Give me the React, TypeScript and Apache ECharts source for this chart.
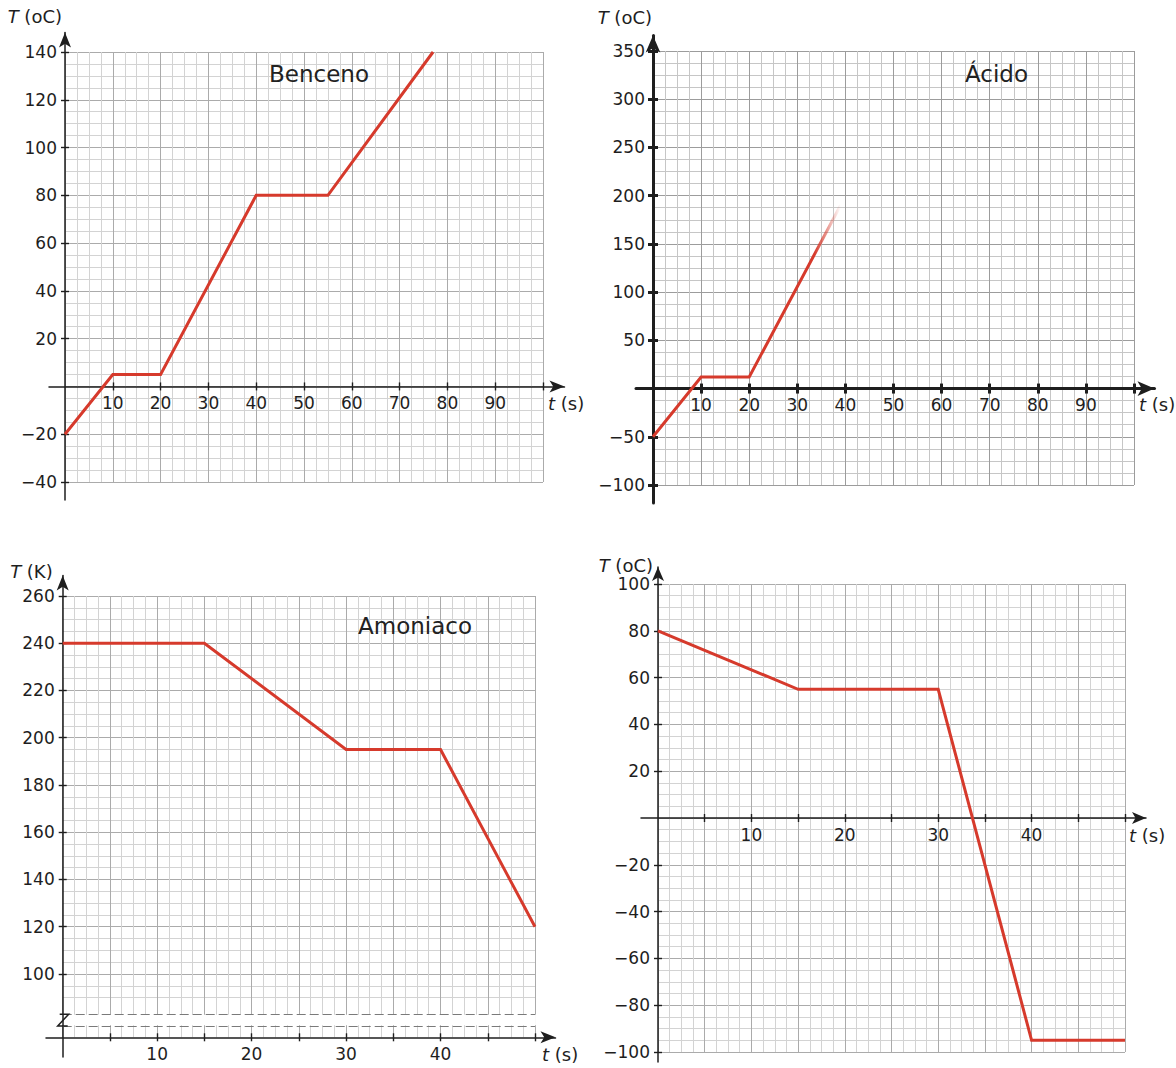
import React, { useEffect, useRef } from "react";
import * as echarts from "echarts";

// ---------------- data ----------------
const bencenoTime = [0, 10, 20, 40, 55, 77];
const bencenoTemp = [-20, 5, 5, 80, 80, 140];
const acidoTime = [0, 10, 20, 39];
const acidoTemp = [-50, 12, 12, 190];
const amoniacoTime = [0, 15, 30, 40, 50];
const amoniacoTemp = [240, 240, 195, 195, 120];
const cuartoTime = [0, 15, 30, 40, 50];
const cuartoTemp = [80, 55, 55, -95, -95];

const bencenoXTicks = [10, 20, 30, 40, 50, 60, 70, 80, 90, 100];
const bencenoXLabels = [10, 20, 30, 40, 50, 60, 70, 80, 90];
const bencenoYTicks = [-40, -20, 20, 40, 60, 80, 100, 120, 140];
const acidoXTicks = [10, 20, 30, 40, 50, 60, 70, 80, 90, 100];
const acidoXLabels = [10, 20, 30, 40, 50, 60, 70, 80, 90];
const acidoYTicks = [-100, -50, 50, 100, 150, 200, 250, 300, 350];
const amoniacoXTicks = [5, 10, 15, 20, 25, 30, 35, 40, 45, 50];
const amoniacoXLabels = [10, 20, 30, 40];
const amoniacoYTicks = [100, 120, 140, 160, 180, 200, 220, 240, 260];
const cuartoXTicks = [5, 10, 15, 20, 25, 30, 35, 40, 45, 50];
const cuartoXLabels = [10, 20, 30, 40];
const cuartoYTicks = [-100, -80, -60, -40, -20, 20, 40, 60, 80, 100];
const amoniacoBreak = [78, 83];

// ---------------- layout ----------------
const FONT = "DejaVu Sans";
const INK = "#1e1e1e";
const RED = "#d63a2c";

type Panel = {
  title: string | null;
  titlePos: [number, number];
  time: number[];
  temp: number[];
  xTicks: number[];
  xLabels: number[];
  yTicks: number[];
  yName: string;
  paper: { left: number; right: number; top: number; bottom: number };
  tRange: [number, number];
  TRange: [number, number];
  step: { x: number; y: number; xMajor: number; yMajor: number };
  hideBelow?: number;
  colors: { minor: string; major: string };
  ax: { left: number; bottom: number; tipX: number; tipY: number; arrowW: number; arrowL: number; width: number; tickW: number; tickL: number };
  yNamePos: { padRight: number; y: number };
  xNamePos: { left: number; padTop: number };
  xAxisAt: number;
  fade?: boolean;
  brk?: boolean;
};

const panels: Panel[] = [
  {
    title: "Benceno", titlePos: [269, 62],
    time: bencenoTime, temp: bencenoTemp,
    xTicks: bencenoXTicks, xLabels: bencenoXLabels, yTicks: bencenoYTicks,
    yName: "{i|T} (oC)",
    paper: { left: 65, right: 543, top: 52, bottom: 482 },
    tRange: [0, 100], TRange: [-40, 140],
    step: { x: 2.5, y: 5, xMajor: 10, yMajor: 20 },
    colors: { minor: "#d3d3d3", major: "#ababab" },
    ax: { left: 49, bottom: 500, tipX: 572, tipY: 25, arrowW: 9, arrowL: 15, width: 1.5, tickW: 1.4, tickL: 4 },
    yNamePos: { padRight: 3, y: 16 },
    xNamePos: { left: 548, padTop: 8 },
    xAxisAt: 0,
  },
  {
    title: "Ácido", titlePos: [965, 62],
    time: acidoTime, temp: acidoTemp,
    xTicks: acidoXTicks, xLabels: acidoXLabels, yTicks: acidoYTicks,
    yName: "{i|T} (oC)",
    paper: { left: 653, right: 1134, top: 51, bottom: 485 },
    tRange: [0, 100], TRange: [-100, 350],
    step: { x: 2.5, y: 12.5, xMajor: 10, yMajor: 50 },
    colors: { minor: "#c6c6c6", major: "#9c9c9c" },
    ax: { left: 636, bottom: 503, tipX: 1163, tipY: 27, arrowW: 11, arrowL: 17, width: 3, tickW: 3, tickL: 5 },
    yNamePos: { padRight: 1, y: 17 },
    xNamePos: { left: 1139, padTop: 7 },
    xAxisAt: 0,
    fade: true,
  },
  {
    title: "Amoniaco", titlePos: [358, 614],
    time: amoniacoTime, temp: amoniacoTemp,
    xTicks: amoniacoXTicks, xLabels: amoniacoXLabels, yTicks: amoniacoYTicks,
    yName: "{i|T} (K)",
    paper: { left: 62.7, right: 535, top: 596, bottom: 1037.3 },
    tRange: [0, 50], TRange: [73.2, 260],
    step: { x: 1.25, y: 5, xMajor: 5, yMajor: 20 },
    hideBelow: 85,
    colors: { minor: "#d3d3d3", major: "#ababab" },
    ax: { left: 46, bottom: 1057, tipX: 563, tipY: 568, arrowW: 9, arrowL: 15, width: 1.5, tickW: 1.4, tickL: 4 },
    yNamePos: { padRight: 10, y: 571 },
    xNamePos: { left: 542, padTop: 8 },
    xAxisAt: 73.2,
    brk: true,
  },
  {
    title: null, titlePos: [0, 0],
    time: cuartoTime, temp: cuartoTemp,
    xTicks: cuartoXTicks, xLabels: cuartoXLabels, yTicks: cuartoYTicks,
    yName: "{i|T} (oC)",
    paper: { left: 658, right: 1125, top: 584, bottom: 1052 },
    tRange: [0, 50], TRange: [-100, 100],
    step: { x: 1.25, y: 5, xMajor: 5, yMajor: 20 },
    colors: { minor: "#d3d3d3", major: "#ababab" },
    ax: { left: 641, bottom: 1062, tipX: 1153, tipY: 560, arrowW: 9, arrowL: 14, width: 1.5, tickW: 1.4, tickL: 4 },
    yNamePos: { padRight: 5, y: 565 },
    xNamePos: { left: 1129, padTop: 8 },
    xAxisAt: 0,
  },
];

function stepValues(span: number, step: number): number[] {
  const v: number[] = [];
  for (let i = 0; i * step <= span + 1e-9; i++) v.push(i * step);
  if (v[v.length - 1] < span - 1e-6) v.push(span);
  return v;
}
const isMult = (v: number, m: number) => Math.abs(v / m - Math.round(v / m)) < 1e-6;
const fmt = (v: number) => (v < 0 ? "\u2212" + Math.abs(v) : String(v));

function buildOption() {
  const grid: any[] = [];
  const xAxis: any[] = [];
  const yAxis: any[] = [];
  const series: any[] = [];
  const title: any[] = [];
  const graphic: any[] = [];

  panels.forEach((p) => {
    const sx = (p.paper.right - p.paper.left) / (p.tRange[1] - p.tRange[0]);
    const sy = (p.paper.bottom - p.paper.top) / (p.TRange[1] - p.TRange[0]);
    const toT = (x: number) => p.tRange[0] + (x - p.paper.left) / sx;
    const toTemp = (y: number) => p.TRange[1] - (y - p.paper.top) / sy;
    const toY = (v: number) => p.paper.top + (p.TRange[1] - v) * sy;
    const toX = (v: number) => p.paper.left + (v - p.tRange[0]) * sx;

    // ---- paper (graph paper grid) ----
    const pg = grid.length;
    grid.push({
      left: p.paper.left, top: p.paper.top,
      width: p.paper.right - p.paper.left, height: p.paper.bottom - p.paper.top,
      containLabel: false, outerBoundsMode: "none",
    });
    const xSpan = p.tRange[1] - p.tRange[0];
    const ySpan = p.TRange[1] - p.TRange[0];
    const xColors = stepValues(xSpan, p.step.x).map((d) =>
      isMult(p.tRange[0] + d, p.step.xMajor) ? p.colors.major : p.colors.minor
    );
    const yColors = stepValues(ySpan, p.step.y).map((d) => {
      const T = p.TRange[1] - d;
      if (p.hideBelow !== undefined && T <= p.hideBelow + 1e-6) return "rgba(0,0,0,0)";
      return isMult(T, p.step.yMajor) ? p.colors.major : p.colors.minor;
    });
    xAxis.push({
      type: "value", gridIndex: pg, min: p.tRange[0], max: p.tRange[1], interval: p.step.x,
      axisLine: { show: false }, axisTick: { show: false }, axisLabel: { show: false },
      splitLine: { show: true, lineStyle: { color: xColors, width: 1 } }, silent: true, z: 0,
    });
    yAxis.push({
      type: "value", gridIndex: pg, inverse: true, min: 0, max: ySpan, interval: p.step.y,
      axisLine: { show: false }, axisTick: { show: false }, axisLabel: { show: false },
      splitLine: { show: true, lineStyle: { color: yColors, width: 1 } }, silent: true, z: 0,
    });

    // ---- data grid with real axes ----
    const gl = p.ax.left;
    const gr = p.ax.tipX - p.ax.arrowL / 2;
    const gt = p.ax.tipY + p.ax.arrowL / 2;
    const gb = p.ax.bottom;
    const dg = grid.length;
    grid.push({ left: gl, top: gt, width: gr - gl, height: gb - gt, containLabel: false, outerBoundsMode: "none" });
    const xMin = toT(gl), xMax = toT(gr), yMin = toTemp(gb), yMax = toTemp(gt);
    const labelStyle = { fontFamily: FONT, fontSize: 17, color: INK };
    const nameStyleBase = { fontFamily: FONT, fontSize: 18, color: INK };
    const axisLineStyle = { color: INK, width: p.ax.width };
    const xOffset = -(gb - toY(p.xAxisAt));
    const yOffset = -(toX(0) - gl);
    const tickStyle = { color: INK, width: p.ax.tickW };

    const dx = xAxis.length;
    xAxis.push({
      type: "value", gridIndex: dg, min: xMin, max: xMax,
      position: "bottom", offset: xOffset,
      axisLine: {
        show: true, onZero: false, symbol: ["none", "arrow"],
        symbolSize: [p.ax.arrowW, p.ax.arrowL], lineStyle: axisLineStyle,
      },
      axisTick: { show: true, customValues: p.xTicks, length: p.ax.tickL, lineStyle: tickStyle },
      axisLabel: { show: true, customValues: p.xLabels, margin: 8, formatter: (v: number) => fmt(v), ...labelStyle },
      splitLine: { show: false },
      name: "{i|t} (s)", nameLocation: "end", nameGap: p.xNamePos.left - gr,
      nameTextStyle: {
        ...nameStyleBase, align: "left", verticalAlign: "top", padding: [p.xNamePos.padTop, 0, 0, 0],
        rich: { i: { ...nameStyleBase, fontStyle: "italic" } },
      },
      z: 3,
    });
    // inner half of the crossing x ticks
    xAxis.push({
      type: "value", gridIndex: dg, min: xMin, max: xMax,
      position: "bottom", offset: xOffset,
      axisLine: { show: false, onZero: false },
      axisTick: { show: true, inside: true, customValues: p.xTicks, length: p.ax.tickL, lineStyle: tickStyle },
      axisLabel: { show: false }, splitLine: { show: false }, z: 3,
    });
    const dy = yAxis.length;
    yAxis.push({
      type: "value", gridIndex: dg, min: yMin, max: yMax,
      position: "left", offset: yOffset,
      axisLine: {
        show: true, onZero: false, symbol: ["none", "arrow"],
        symbolSize: [p.ax.arrowW, p.ax.arrowL], lineStyle: axisLineStyle,
      },
      axisTick: { show: true, customValues: p.yTicks, length: p.ax.tickL, lineStyle: tickStyle },
      axisLabel: { show: true, customValues: p.yTicks, margin: 8, formatter: (v: number) => fmt(v), ...labelStyle },
      splitLine: { show: false },
      name: p.yName, nameLocation: "end", nameGap: gt - p.yNamePos.y,
      nameTextStyle: {
        ...nameStyleBase, align: "right", verticalAlign: "middle", padding: [0, p.yNamePos.padRight, 0, 0],
        rich: { i: { ...nameStyleBase, fontStyle: "italic" } },
      },
      z: 3,
    });
    // inner half of the crossing y ticks
    yAxis.push({
      type: "value", gridIndex: dg, min: yMin, max: yMax,
      position: "left", offset: yOffset,
      axisLine: { show: false, onZero: false },
      axisTick: { show: true, inside: true, customValues: p.yTicks, length: p.ax.tickL, lineStyle: tickStyle },
      axisLabel: { show: false }, splitLine: { show: false }, z: 3,
    });

    const lineColor: any = p.fade
      ? new echarts.graphic.LinearGradient(0, 0, 1, 0, [
          { offset: 0, color: RED },
          { offset: 0.86, color: RED },
          { offset: 1, color: "rgba(214,58,44,0)" },
        ])
      : RED;

    const s: any = {
      type: "line", xAxisIndex: dx, yAxisIndex: dy,
      data: p.time.map((t, i) => [t, p.temp[i]]),
      symbol: "none", showSymbol: false, silent: true, z: 5,
      lineStyle: { color: lineColor, width: 3, cap: "butt", join: "miter" },
    };
    if (p.brk) {
      s.markArea = {
        silent: true,
        itemStyle: { color: "#ffffff", opacity: 1 },
        data: [[{ coord: [-0.9, amoniacoBreak[0] + 0.3] }, { coord: [p.tRange[1] + 0.1, amoniacoBreak[1] - 0.3] }]],
      };
      s.markLine = {
        silent: true, symbol: ["none", "none"], label: { show: false },
        lineStyle: { color: "#7a7a7a", width: 1, type: [9, 4] },
        data: amoniacoBreak.map((b) => [{ coord: [p.tRange[0], b] }, { coord: [p.tRange[1], b] }]),
      };
      const x0 = p.paper.left;
      const y1 = toY(amoniacoBreak[1]);
      const y2 = toY(amoniacoBreak[0]);
      graphic.push({
        type: "polyline", z: 20, silent: true,
        shape: { points: [[x0 - 3, y1], [x0 + 6, y1], [x0 - 5, y2], [x0 + 5, y2]] },
        style: { stroke: INK, lineWidth: 1.5, fill: "none" },
      });
    }
    series.push(s);

    if (p.title) {
      title.push({
        text: p.title, left: p.titlePos[0], top: p.titlePos[1], padding: 0,
        textStyle: { fontFamily: FONT, fontSize: 23, fontWeight: "normal", color: "#222" },
      });
    }
  });

  return { animation: false, backgroundColor: "#ffffff", grid, xAxis, yAxis, series, title, graphic };
}

export default function App() {
  const ref = useRef<HTMLDivElement>(null);
  useEffect(() => {
    if (!ref.current) return;
    const chart = echarts.init(ref.current, null, { renderer: "svg" });
    chart.setOption(buildOption() as any);
    return () => chart.dispose();
  }, []);
  return (
    <div
      ref={ref}
      style={{ position: "absolute", left: 0, top: 0, width: 1176, height: 1068, background: "#fff" }}
    />
  );
}
